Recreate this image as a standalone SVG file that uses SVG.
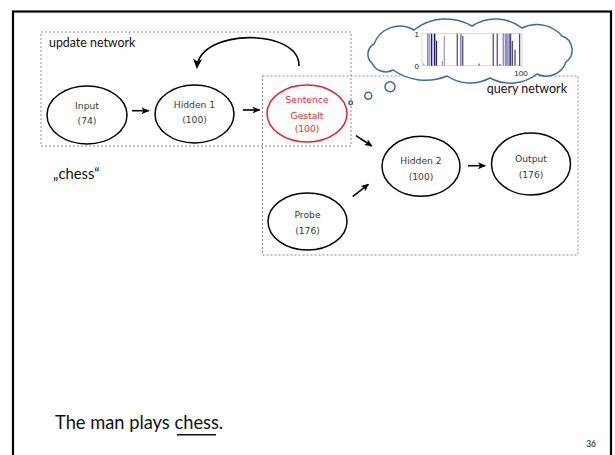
<svg xmlns="http://www.w3.org/2000/svg" width="615" height="455" viewBox="0 0 615 455">
<defs>
<style>
.node{fill:#fff;stroke:#000;stroke-width:1.5}
.red{fill:#fff;stroke:#e8202a;stroke-width:1.5}
.nt{font-family:"DejaVu Sans",Verdana,sans-serif;font-size:9.2px;fill:#3a3a3a;text-anchor:middle}
.rt{font-family:"DejaVu Sans",Verdana,sans-serif;font-size:9.2px;fill:#e53030;text-anchor:middle}
.box{fill:none;stroke:#8a8a8a;stroke-width:1;stroke-dasharray:2,2}
.lbl{font-family:Lato,Carlito,"Liberation Sans",sans-serif;fill:#111}
.conn{stroke:#000;stroke-width:1.6;fill:none}
.cl{stroke:#3f6b98;stroke-width:1.5;fill:#fff}
.nv{fill:#211d6e}
.lv{fill:#8e8aba}
.ax{font-family:"Liberation Sans",Arial,sans-serif;font-size:8px;fill:#222}
</style>
<marker id="ah" viewBox="0 0 8 8" refX="7" refY="4" markerWidth="8" markerHeight="8" markerUnits="userSpaceOnUse" orient="auto">
<path d="M0,0.5 L8,4 L0,7.5 L2,4 z" fill="#000"/>
</marker>
<marker id="ah2" viewBox="0 0 10 10" refX="8" refY="5" markerWidth="10" markerHeight="10" markerUnits="userSpaceOnUse" orient="auto">
<path d="M0,0.5 L10,5 L0,9.5 L2.5,5 z" fill="#000"/>
</marker>
</defs>
<rect width="615" height="455" fill="#fff"/>
<rect x="13" y="11.5" width="598" height="460" fill="none" stroke="#000" stroke-width="2.2"/>

<g id="update-network">
<rect class="box" x="41" y="32" width="310" height="114"/>
<text class="lbl" x="49" y="47" font-size="12.4">update network</text>
</g>
<g id="query-network">
<rect class="box" x="262.5" y="76" width="315.5" height="179"/>
<text class="lbl" x="567" y="93" font-size="12.5" text-anchor="end">query network</text>
</g>

<g id="thought">
<path class="cl" d="M372,63 A11.6,11.6 0 0 1 374,44 A27.5,27.5 0 0 1 414,30 A51.4,51.4 0 0 1 472,26 A43,43 0 0 1 522,28 A33.2,33.2 0 0 1 562,36 A14.8,14.8 0 0 1 566,62 A21,21 0 0 1 537,74 A43.3,43.3 0 0 1 490,78 A41.5,41.5 0 0 1 447,76 A56.5,56.5 0 0 1 393,70 A15.1,15.1 0 0 1 372,63 z"/>
<circle class="cl" cx="350.7" cy="102.7" r="1.8"/>
<circle class="cl" cx="368.3" cy="95.7" r="3.5"/>
<circle class="cl" cx="390" cy="86.7" r="5"/>
<rect x="422" y="33.7" width="100" height="32" fill="#fff" stroke="#cfcfcf" stroke-width="0.8"/>
<rect class="lv" x="423.3" y="63.5" width="1" height="2.2"/>
<rect class="lv" x="427" y="33.7" width="1.7" height="32"/>
<rect class="lv" x="429.2" y="33.7" width="1.2" height="32"/>
<rect class="nv" x="431" y="33.7" width="1" height="32"/>
<rect class="lv" x="432.4" y="33.7" width="1" height="32"/>
<rect class="nv" x="434" y="33.7" width="1.4" height="32"/>
<rect class="nv" x="436" y="40.7" width="1.1" height="25"/>
<rect class="lv" x="441.8" y="61" width="1" height="4.7"/>
<rect class="lv" x="443.7" y="36" width="1.1" height="29.7"/>
<rect class="nv" x="456.7" y="33.7" width="1" height="32"/>
<rect class="lv" x="460" y="33.7" width="1.6" height="32"/>
<rect class="nv" x="462.3" y="36" width="1" height="29.7"/>
<rect class="nv" x="478.5" y="63.5" width="0.9" height="2.2"/>
<rect class="nv" x="492.7" y="33.7" width="1" height="32"/>
<rect class="nv" x="496.7" y="33.7" width="1" height="32"/>
<rect class="nv" x="499.5" y="64" width="0.9" height="1.7"/>
<rect class="lv" x="502.6" y="33.7" width="1.7" height="32"/>
<rect class="lv" x="505" y="33.7" width="2.8" height="32"/>
<rect class="nv" x="508.6" y="33.7" width="1" height="32"/>
<rect class="nv" x="510.2" y="33.7" width="1" height="32"/>
<rect class="nv" x="511.8" y="41" width="1" height="24.7"/>
<rect class="nv" x="514.5" y="49.7" width="1" height="16"/>
<rect class="nv" x="519.2" y="33.7" width="1" height="32"/>
<text class="ax" x="419" y="37" text-anchor="end">1</text>
<text class="ax" x="419" y="68.5" text-anchor="end">0</text>
<text class="ax" x="521" y="75.7" text-anchor="middle">100</text>
</g>

<g id="input">
<ellipse class="node" cx="87" cy="115" rx="40" ry="29"/>
<text class="nt" x="87" y="108.5">Input</text>
<text class="nt" x="87" y="123.5">(74)</text>
</g>
<g id="hidden1">
<ellipse class="node" cx="194.5" cy="114" rx="39.5" ry="29"/>
<text class="nt" x="194.5" y="107.5">Hidden 1</text>
<text class="nt" x="194.5" y="123">(100)</text>
</g>
<g id="sentence-gestalt">
<ellipse class="red" cx="307" cy="113.5" rx="40" ry="28.5"/>
<text class="rt" x="307" y="102.5">Sentence</text>
<text class="rt" x="307" y="118.5">Gestalt</text>
<text class="rt" x="307" y="131.5">(100)</text>
</g>
<g id="hidden2">
<ellipse class="node" cx="421" cy="166.3" rx="39" ry="30"/>
<text class="nt" x="421" y="163.5">Hidden 2</text>
<text class="nt" x="421" y="179.5">(100)</text>
</g>
<g id="output">
<ellipse class="node" cx="531" cy="164" rx="39.5" ry="31"/>
<text class="nt" x="531" y="161.5">Output</text>
<text class="nt" x="531" y="177.5">(176)</text>
</g>
<g id="probe">
<ellipse class="node" cx="307.5" cy="221.5" rx="39.5" ry="28.5"/>
<text class="nt" x="307.5" y="217.5">Probe</text>
<text class="nt" x="307.5" y="233.5">(176)</text>
</g>

<g id="connectors">
<line class="conn" x1="132" y1="110.7" x2="148.5" y2="110.7" marker-end="url(#ah)"/>
<line class="conn" x1="243" y1="110" x2="259.5" y2="110" marker-end="url(#ah)"/>
<line class="conn" x1="356" y1="135.7" x2="371.7" y2="146" marker-end="url(#ah)"/>
<line class="conn" x1="352.7" y1="196.7" x2="368.3" y2="184.3" marker-end="url(#ah)"/>
<line class="conn" x1="468" y1="165.7" x2="485" y2="165.7" marker-end="url(#ah)"/>
<path class="conn" stroke-width="2" d="M299,66 C300,28 200,28 197,67" marker-end="url(#ah2)"/>
</g>

<g id="texts">
<text class="lbl" x="53" y="179.3" font-size="14.8">„chess“</text>
<text class="lbl" x="55" y="429.3" font-size="18.3">The man plays chess.</text>
<line x1="177" y1="434.7" x2="216" y2="434.7" stroke="#111" stroke-width="1.5"/>
<text class="lbl" x="596" y="446.5" font-size="8.5" text-anchor="end">36</text>
</g>
</svg>
